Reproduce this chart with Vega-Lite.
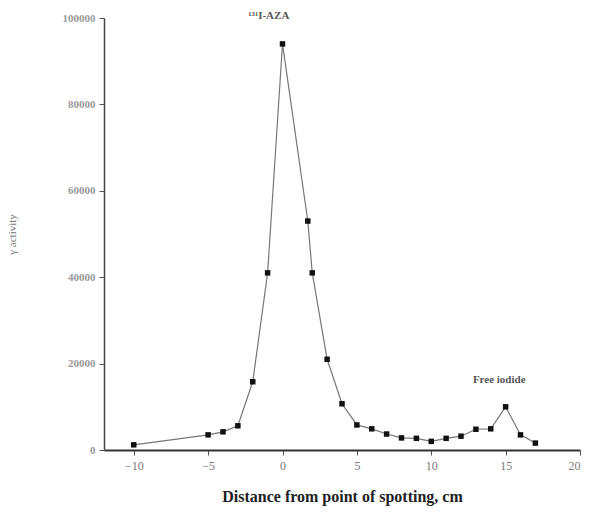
{
  "$schema": "https://vega.github.io/schema/vega-lite/v6.json",
  "width": 476,
  "height": 432,
  "autosize": {"type": "none"},
  "padding": {"left": 104, "top": 18, "right": 10, "bottom": 65},
  "background": "white",
  "config": {"view": {"stroke": null}},
  "datasets": {
    "pts": [
      {"x": -10, "y": 1200},
      {"x": -5, "y": 3500},
      {"x": -4, "y": 4200},
      {"x": -3, "y": 5600},
      {"x": -2, "y": 15800},
      {"x": -1, "y": 41000},
      {"x": 0, "y": 94000},
      {"x": 1.7, "y": 53000},
      {"x": 2, "y": 41000},
      {"x": 3, "y": 21000},
      {"x": 4, "y": 10700},
      {"x": 5, "y": 5800},
      {"x": 6, "y": 4900},
      {"x": 7, "y": 3700},
      {"x": 8, "y": 2800},
      {"x": 9, "y": 2700},
      {"x": 10, "y": 2000},
      {"x": 11, "y": 2700},
      {"x": 12, "y": 3200},
      {"x": 13, "y": 4800},
      {"x": 14, "y": 4900},
      {"x": 15, "y": 10000},
      {"x": 16, "y": 3500},
      {"x": 17, "y": 1600}
    ],
    "labels": [
      {"x": -2.3, "y": 100500, "t": "¹³¹I-AZA"},
      {"x": 12.8, "y": 16200, "t": "Free iodide"}
    ]
  },
  "layer": [
    {
      "data": {"name": "pts"},
      "mark": {"type": "line", "color": "#777777", "strokeWidth": 1.2},
      "encoding": {
        "x": {
          "field": "x", "type": "quantitative",
          "scale": {"domain": [-12, 20], "nice": false, "zero": false},
          "axis": {
            "values": [-10, -5, 0, 5, 10, 15, 20],
            "title": "Distance from point of spotting, cm",
            "titleFont": "Liberation Serif", "titleFontSize": 16, "titleFontWeight": "bold",
            "titleColor": "#222222", "titlePadding": 17,
            "labelFont": "Liberation Serif", "labelFontSize": 12, "labelColor": "#777777",
            "labelPadding": 5,
            "domainColor": "#333333", "domainWidth": 2,
            "tickColor": "#555555", "tickSize": 5, "grid": false
          }
        },
        "y": {
          "field": "y", "type": "quantitative",
          "scale": {"domain": [0, 100000], "nice": false},
          "axis": {
            "values": [0, 20000, 40000, 60000, 80000, 100000],
            "format": "d",
            "title": "γ activity",
            "titleFont": "Liberation Serif", "titleFontSize": 11, "titleFontWeight": "normal",
            "titleColor": "#777777", "titlePadding": 45,
            "labelFont": "Liberation Serif", "labelFontSize": 11, "labelFontWeight": "bold", "labelColor": "#999999",
            "labelPadding": 4,
            "domainColor": "#444444", "domainWidth": 1.5,
            "tickColor": "#555555", "tickSize": 5, "grid": false
          }
        }
      }
    },
    {
      "data": {"name": "pts"},
      "mark": {"type": "point", "shape": "square", "filled": true, "color": "#111111", "size": 30, "opacity": 1},
      "encoding": {
        "x": {"field": "x", "type": "quantitative"},
        "y": {"field": "y", "type": "quantitative"}
      }
    },
    {
      "data": {"name": "labels"},
      "mark": {"type": "text", "align": "left", "baseline": "middle", "font": "Liberation Serif", "fontSize": 11, "fontWeight": "bold", "color": "#555555", "clip": false},
      "encoding": {
        "x": {"field": "x", "type": "quantitative"},
        "y": {"field": "y", "type": "quantitative"},
        "text": {"field": "t"}
      }
    }
  ]
}
